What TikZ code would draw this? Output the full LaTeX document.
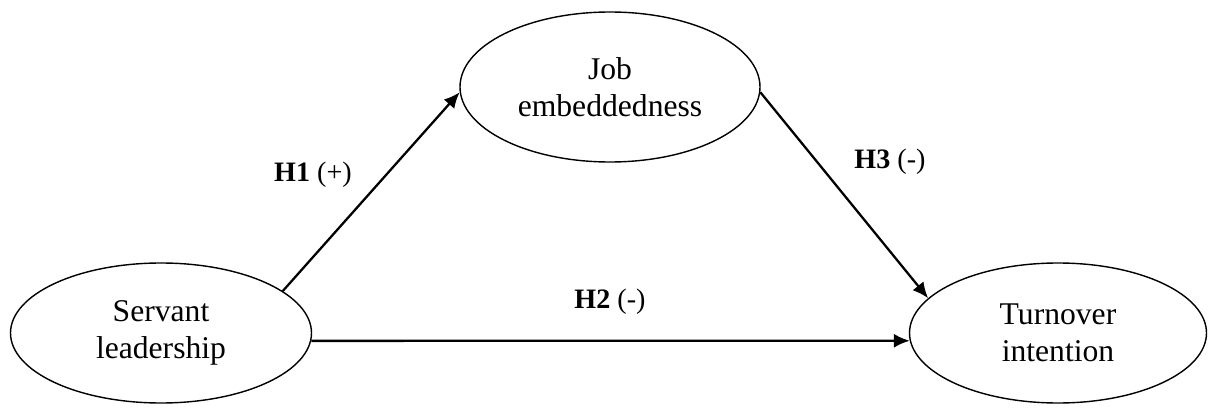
\documentclass[tikz,border=0pt]{standalone}
\usepackage{fontspec}
\setmainfont{Liberation Serif}
\usetikzlibrary{shapes.geometric,arrows.meta}

\newlength{\du}
\setlength{\du}{0.02cm}

\tikzset{
  construct/.style={ellipse,draw,line width=0.8pt,inner sep=0pt,align=center,
    font=\fontsize{18}{21}\selectfont},
  path/.style={line width=1.3pt,-{Latex[length=9pt,width=8pt]}},
  hyp/.style={font=\fontsize{16}{19}\selectfont}
}

\begin{document}
\begin{tikzpicture}
\useasboundingbox (0,0) rectangle (1208\du,-412\du);

% constructs
\node[construct,minimum width=301\du,minimum height=140\du] (servant) at (161\du,-333\du) {Servant\\leadership};
\node[construct,minimum width=300\du,minimum height=150\du] (job) at (610\du,-87\du) {Job\\embeddedness};
\node[construct,minimum width=297\du,minimum height=140\du] (turnover) at (1058\du,-333\du) {Turnover\\intention};

% hypotheses
\draw[path] (servant.19) -- (job.182);
\draw[path] (servant.-3) -- (turnover.183);
\draw[path] (job.-2) -- (turnover.165);

\node[hyp] (h1) at (313\du,-175\du) {\textbf{H1} (+)};
\node[hyp] (h2) at (610\du,-302\du) {\textbf{H2} (-)};
\node[hyp] (h3) at (890\du,-162\du) {\textbf{H3} (-)};
\end{tikzpicture}
\end{document}
